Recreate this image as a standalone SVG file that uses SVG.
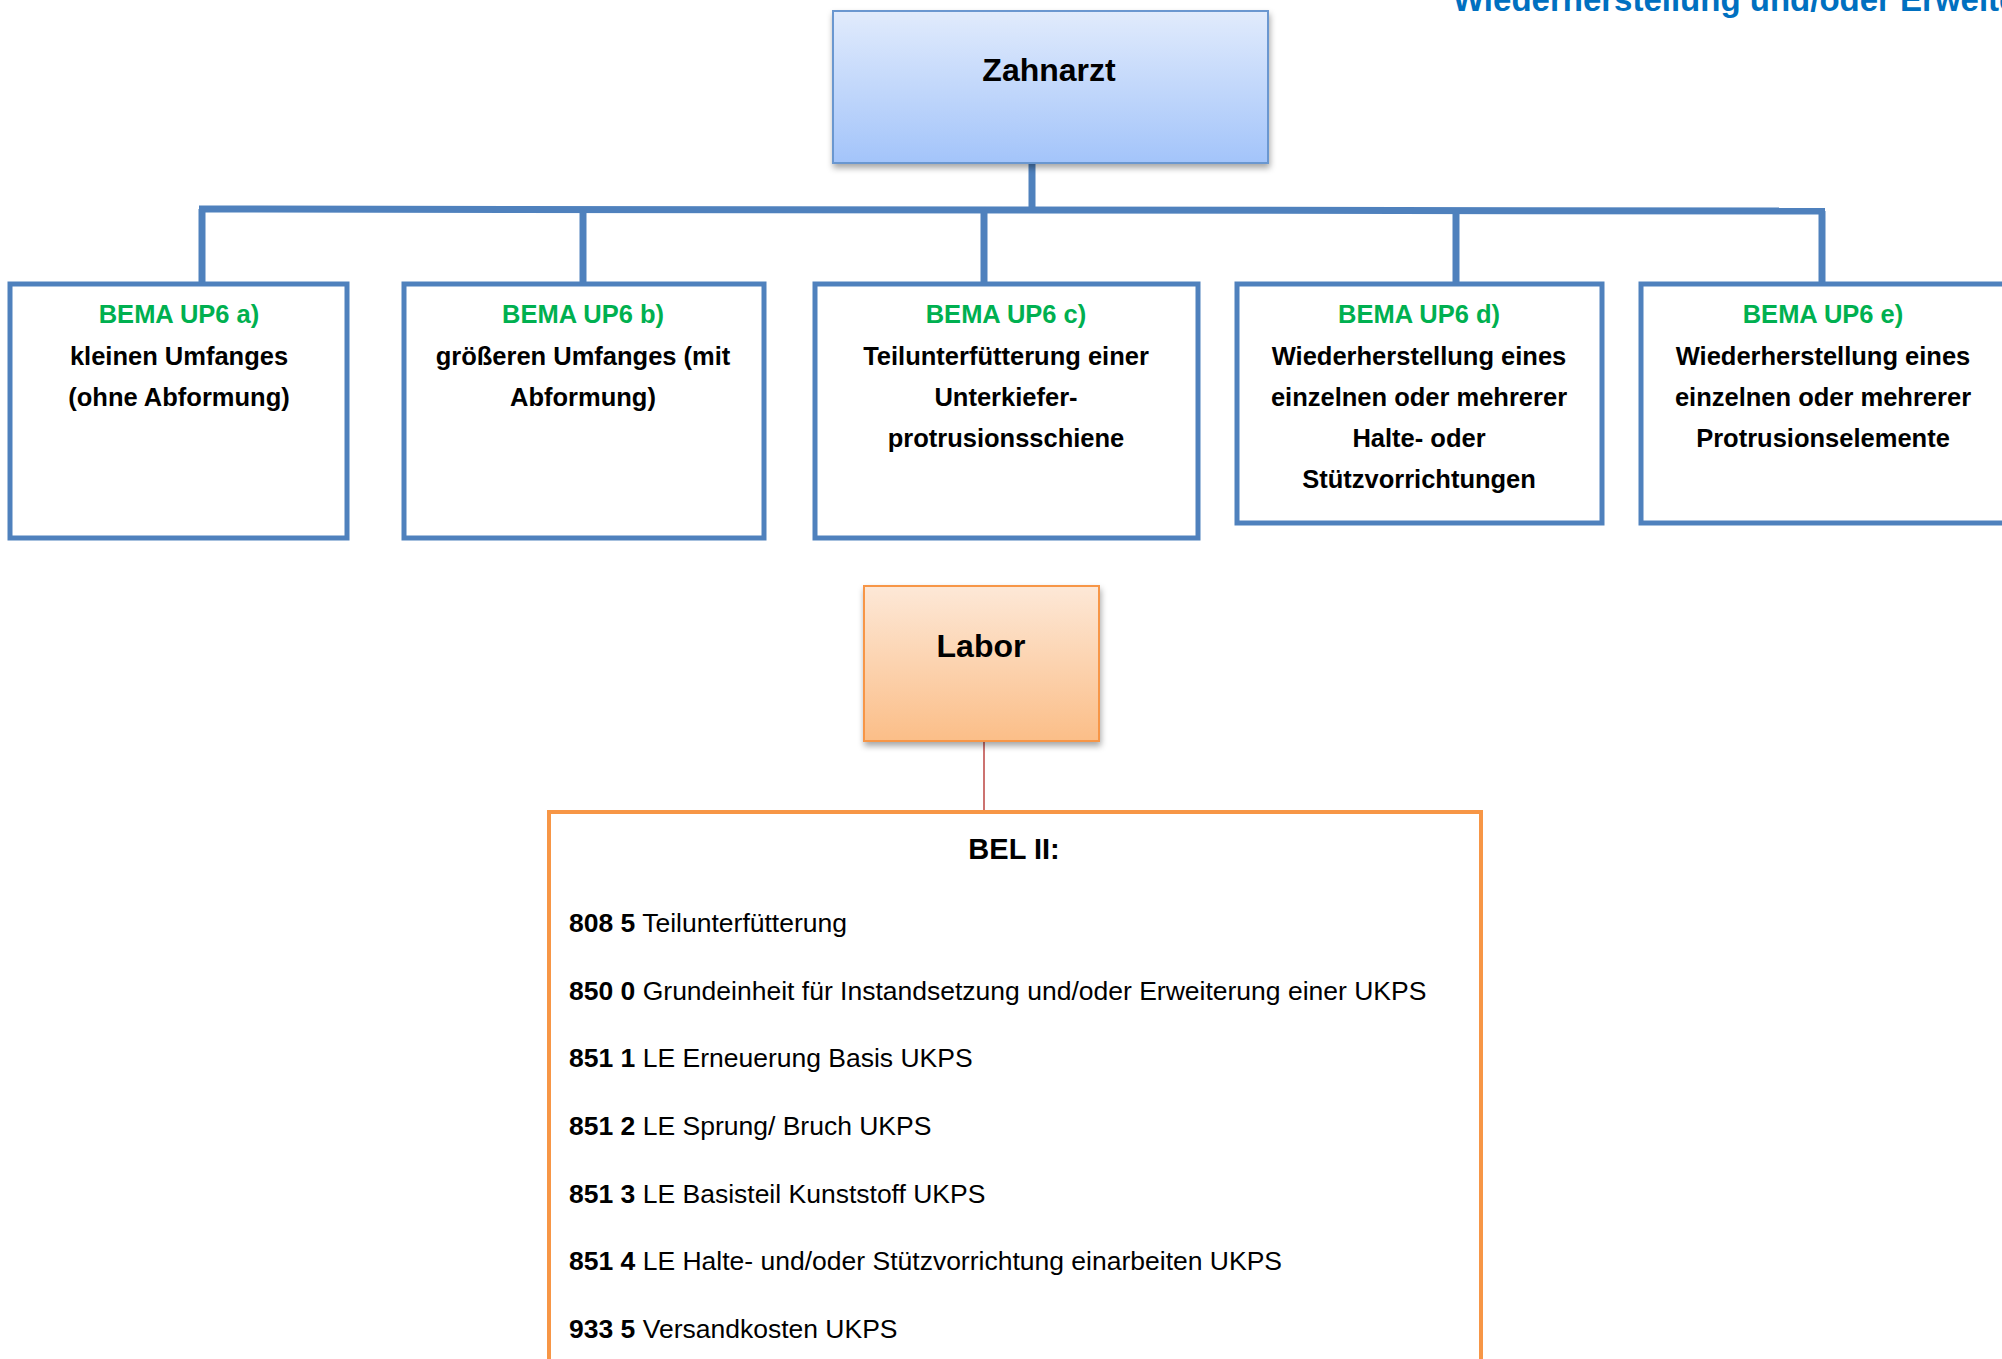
<svg xmlns="http://www.w3.org/2000/svg" width="2002" height="1359" viewBox="0 0 2002 1359">
<defs>
<linearGradient id="gBlue" x1="0" y1="0" x2="0" y2="1">
<stop offset="0" stop-color="#E1EBFC"/>
<stop offset="1" stop-color="#A3C4FA"/>
</linearGradient>
<linearGradient id="gOrange" x1="0" y1="0" x2="0" y2="1">
<stop offset="0" stop-color="#FDE8D7"/>
<stop offset="1" stop-color="#FBBE88"/>
</linearGradient>
<filter id="shadow" x="-10%" y="-10%" width="125%" height="130%">
<feDropShadow dx="1" dy="4" stdDeviation="3" flood-color="#000" flood-opacity="0.35"/>
</filter>
</defs>
<style>
text{font-family:"Liberation Sans",Arial,sans-serif;}
.title{font-weight:bold;font-size:32px;fill:#000;text-anchor:middle;}
.box{fill:#fff;stroke:#4F81BD;stroke-width:5;}
.green{fill:#00B050;font-weight:bold;font-size:25.5px;text-anchor:middle;}
.bt{fill:#000;font-weight:bold;font-size:25.5px;text-anchor:middle;}
.item{fill:#000;font-size:26.5px;}
.item tspan.b{font-weight:bold;}
.conn{stroke:#4F81BD;stroke-width:7;fill:none;}
</style>
<rect width="2002" height="1359" fill="#fff"/>

<text x="1453" y="11" fill="#0070C0" font-weight="bold" font-size="33">Wiederherstellung und/oder Erweiterung</text>

<g id="connectors">
<path class="conn" d="M1032,163 V209"/>
<path class="conn" d="M199,209 L1825,211"/>
<path class="conn" d="M202,209 V284"/>
<path class="conn" d="M583,209 V284"/>
<path class="conn" d="M984,210 V284"/>
<path class="conn" d="M1456,210 V284"/>
<path class="conn" d="M1822,211 V284"/>
<path d="M984,741 V811" stroke="#C0504D" stroke-width="1.6" fill="none"/>
</g>

<g id="zahnarzt">
<rect x="833" y="11" width="435" height="152" fill="url(#gBlue)" stroke="#6B97D0" stroke-width="2" filter="url(#shadow)"/>
<text class="title" x="1049" y="81">Zahnarzt</text>
</g>

<g id="up6a">
<rect class="box" x="10" y="284" width="337" height="254"/>
<text class="green" x="179" y="323">BEMA UP6 a)</text>
<text class="bt" x="179" y="365">kleinen Umfanges</text>
<text class="bt" x="179" y="406">(ohne Abformung)</text>
</g>

<g id="up6b">
<rect class="box" x="404" y="284" width="360" height="254"/>
<text class="green" x="583" y="323">BEMA UP6 b)</text>
<text class="bt" x="583" y="365">größeren Umfanges (mit</text>
<text class="bt" x="583" y="406">Abformung)</text>
</g>

<g id="up6c">
<rect class="box" x="815" y="284" width="383" height="254"/>
<text class="green" x="1006" y="323">BEMA UP6 c)</text>
<text class="bt" x="1006" y="365">Teilunterfütterung einer</text>
<text class="bt" x="1006" y="406">Unterkiefer-</text>
<text class="bt" x="1006" y="447">protrusionsschiene</text>
</g>

<g id="up6d">
<rect class="box" x="1237" y="284" width="365" height="239"/>
<text class="green" x="1419" y="323">BEMA UP6 d)</text>
<text class="bt" x="1419" y="365">Wiederherstellung eines</text>
<text class="bt" x="1419" y="406">einzelnen oder mehrerer</text>
<text class="bt" x="1419" y="447">Halte- oder</text>
<text class="bt" x="1419" y="488">Stützvorrichtungen</text>
</g>

<g id="up6e">
<rect class="box" x="1641" y="284" width="370" height="239"/>
<text class="green" x="1823" y="323">BEMA UP6 e)</text>
<text class="bt" x="1823" y="365">Wiederherstellung eines</text>
<text class="bt" x="1823" y="406">einzelnen oder mehrerer</text>
<text class="bt" x="1823" y="447">Protrusionselemente</text>
</g>

<g id="labor">
<rect x="864" y="586" width="235" height="155" fill="url(#gOrange)" stroke="#F79646" stroke-width="2" filter="url(#shadow)"/>
<text class="title" x="981" y="657" font-size="31">Labor</text>
</g>

<g id="bel">
<rect x="549" y="812" width="932" height="600" fill="#fff" stroke="#F79646" stroke-width="4"/>
<text x="1014" y="859" font-weight="bold" font-size="29" text-anchor="middle">BEL II:</text>
<text class="item" x="569" y="932"><tspan class="b">808 5</tspan> Teilunterfütterung</text>
<text class="item" x="569" y="1000"><tspan class="b">850 0</tspan> Grundeinheit für Instandsetzung und/oder Erweiterung einer UKPS</text>
<text class="item" x="569" y="1067"><tspan class="b">851 1</tspan> LE Erneuerung Basis UKPS</text>
<text class="item" x="569" y="1135"><tspan class="b">851 2</tspan> LE Sprung/ Bruch UKPS</text>
<text class="item" x="569" y="1203"><tspan class="b">851 3</tspan> LE Basisteil Kunststoff UKPS</text>
<text class="item" x="569" y="1270"><tspan class="b">851 4</tspan> LE Halte- und/oder Stützvorrichtung einarbeiten UKPS</text>
<text class="item" x="569" y="1338"><tspan class="b">933 5</tspan> Versandkosten UKPS</text>
</g>
</svg>
